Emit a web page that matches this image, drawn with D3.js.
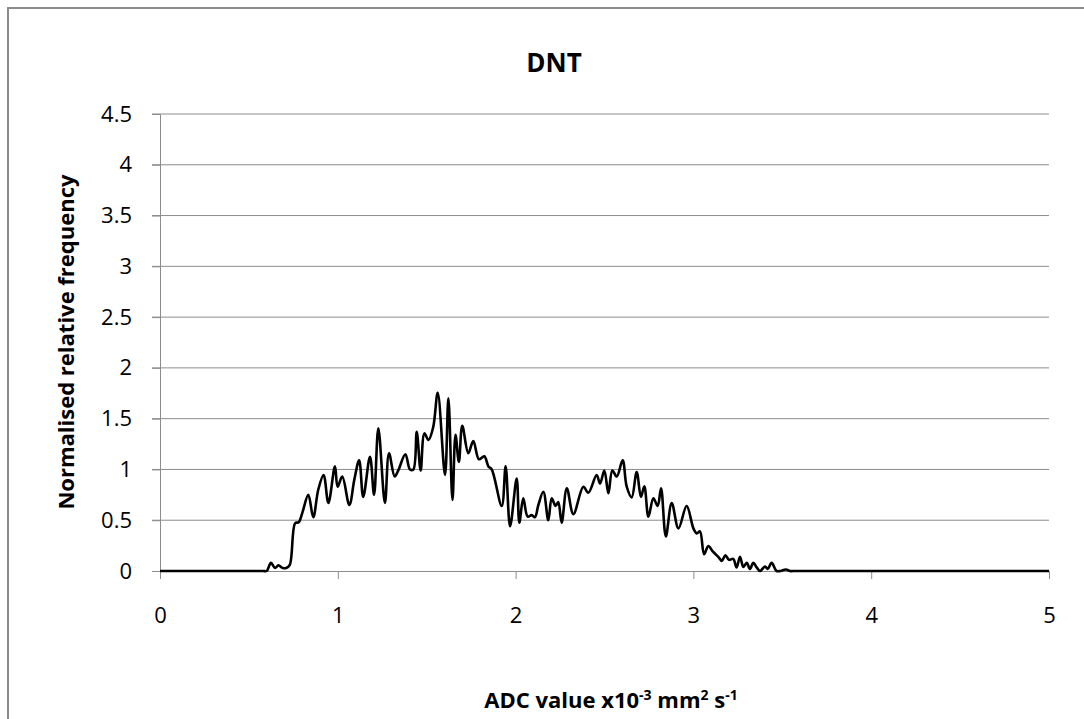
<!DOCTYPE html>
<html lang="en">
<head>
  <meta charset="UTF-8">
  <title>DNT</title>
  <style>
    body { margin: 0; background: #fff; font-family: 'Open Sans', 'Lato', sans-serif; }
    text { fill: #000; }
  </style>
</head>
<body>
  <svg width="1084" height="719"></svg>

  <script src="https://d3js.org/d3.v7.min.js"></script>
  <script>
  // ADC value (x10^-3 mm2/s) and normalised relative frequency
  const adc = [0, 0.3, 0.55, 0.58, 0.60, 0.624, 0.647, 0.666, 0.69, 0.71, 0.73, 0.76, 0.78, 0.80, 0.834, 0.862, 0.89, 0.92, 0.947,
    0.984, 0.999, 1.025, 1.065, 1.093, 1.12, 1.143, 1.181, 1.204, 1.228, 1.265, 1.288, 1.32, 1.34, 1.38,
    1.406, 1.425, 1.444, 1.466, 1.487, 1.51, 1.537, 1.562, 1.603, 1.622, 1.645, 1.662, 1.681, 1.70, 1.734,
    1.762, 1.794, 1.824, 1.847, 1.866, 1.922, 1.944, 1.969, 2.006, 2.021, 2.043, 2.068, 2.09, 2.109, 2.128,
    2.156, 2.184, 2.203, 2.225, 2.24, 2.259, 2.288, 2.325, 2.381, 2.409, 2.456, 2.475, 2.499, 2.522, 2.544,
    2.569, 2.602, 2.625, 2.653, 2.681, 2.705, 2.724, 2.747, 2.775, 2.799, 2.818, 2.845, 2.878, 2.916, 2.962,
    3.0, 3.019, 3.037, 3.06, 3.084, 3.11, 3.14, 3.16, 3.18, 3.20, 3.224, 3.243, 3.262, 3.281, 3.30, 3.318,
    3.337, 3.356, 3.375, 3.403, 3.418, 3.44, 3.468, 3.49, 3.52, 3.543, 3.57, 3.6, 4, 4.5, 5];
  const freq = [0, 0, 0, 0, 0, 0.08, 0.03, 0.055, 0.03, 0.03, 0.06, 0.47, 0.48, 0.57, 0.75, 0.53, 0.80, 0.945, 0.67,
    1.03, 0.83, 0.93, 0.65, 0.90, 1.09, 0.73, 1.125, 0.75, 1.405, 0.67, 1.16, 0.93, 0.99, 1.15,
    1.00, 1.00, 1.37, 0.99, 1.355, 1.29, 1.42, 1.755, 0.945, 1.70, 0.70, 1.34, 1.075, 1.43, 1.16,
    1.28, 1.10, 1.13, 1.03, 1.00, 0.64, 1.03, 0.44, 0.91, 0.475, 0.715, 0.535, 0.55, 0.53, 0.65,
    0.78, 0.50, 0.715, 0.64, 0.68, 0.475, 0.815, 0.56, 0.83, 0.77, 0.945, 0.86, 0.99, 0.765, 0.99,
    0.93, 1.09, 0.83, 0.725, 0.975, 0.73, 0.835, 0.535, 0.715, 0.64, 0.815, 0.34, 0.67, 0.42, 0.64,
    0.42, 0.37, 0.39, 0.165, 0.245, 0.19, 0.14, 0.10, 0.155, 0.11, 0.12, 0.035, 0.14, 0.04, 0.08, 0.02,
    0.08, 0.035, 0, 0.045, 0.02, 0.08, 0, 0, 0.015, 0, 0, 0, 0, 0, 0];

  const xTicks = [0, 1, 2, 3, 4, 5];
  const yTicks = [0, 0.5, 1, 1.5, 2, 2.5, 3, 3.5, 4, 4.5];

  const svg = d3.select("svg");

  // outer chart frame (only left/top edges are visible in the crop)
  svg.append("rect")
    .attr("x", 8).attr("y", 8)
    .attr("width", 1200).attr("height", 1000)
    .attr("fill", "none")
    .attr("stroke", "#8c8c8c")
    .attr("stroke-width", 2);

  const x = d3.scaleLinear().domain([0, 5]).range([160, 1049]);
  const y = d3.scaleLinear().domain([0, 4.5]).range([571, 114]);

  // gridlines
  svg.append("g")
    .selectAll("line")
    .data(yTicks.filter(d => d > 0))
    .enter().append("line")
    .attr("x1", x(0) - 8).attr("x2", x(5))
    .attr("y1", d => y(d)).attr("y2", d => y(d))
    .attr("stroke", "#8c8c8c")
    .attr("stroke-width", 1);

  // y axis
  const yAxis = svg.append("g")
    .attr("transform", `translate(${x(0)},0)`)
    .call(d3.axisLeft(y).tickValues(yTicks).tickSize(8).tickPadding(20).tickFormat(d => d));
  yAxis.select(".domain").attr("stroke", "#8c8c8c");
  yAxis.selectAll(".tick line").attr("stroke", "#8c8c8c");
  yAxis.selectAll("text").attr("font-size", 22).attr("font-family", "'Open Sans', sans-serif");

  // x axis
  const xAxis = svg.append("g")
    .attr("transform", `translate(0,${y(0)})`)
    .call(d3.axisBottom(x).tickValues(xTicks).tickSize(8).tickPadding(28).tickFormat(d3.format("d")));
  xAxis.select(".domain").attr("stroke", "#8c8c8c");
  xAxis.selectAll(".tick line").attr("stroke", "#8c8c8c");
  xAxis.selectAll("text").attr("font-size", 22).attr("font-family", "'Open Sans', sans-serif");

  // the series
  const line = d3.line()
    .x((d, i) => x(adc[i]))
    .y(d => y(d))
    .curve(d3.curveCatmullRom.alpha(0.5));

  svg.append("path")
    .datum(freq)
    .attr("d", line)
    .attr("fill", "none")
    .attr("stroke", "#000")
    .attr("stroke-width", 2.6)
    .attr("stroke-linejoin", "round");

  // title
  svg.append("text")
    .attr("x", 554).attr("y", 72)
    .attr("text-anchor", "middle")
    .attr("font-size", 26)
    .attr("font-weight", "bold")
    .text("DNT");

  // axis titles
  svg.append("text")
    .attr("transform", "translate(74,342) rotate(-90)")
    .attr("text-anchor", "middle")
    .attr("font-size", 22)
    .attr("font-weight", "bold")
    .text("Normalised relative frequency");

  const xt = svg.append("text")
    .attr("x", 611).attr("y", 708)
    .attr("text-anchor", "middle")
    .attr("font-size", 22)
    .attr("font-weight", "bold");
  xt.append("tspan").text("ADC value x10");
  xt.append("tspan").attr("dy", -8).attr("font-size", 14).text("-3");
  xt.append("tspan").attr("dy", 8).text(" mm");
  xt.append("tspan").attr("dy", -8).attr("font-size", 14).text("2");
  xt.append("tspan").attr("dy", 8).text(" s");
  xt.append("tspan").attr("dy", -8).attr("font-size", 14).text("-1");
  </script>
</body>
</html>
